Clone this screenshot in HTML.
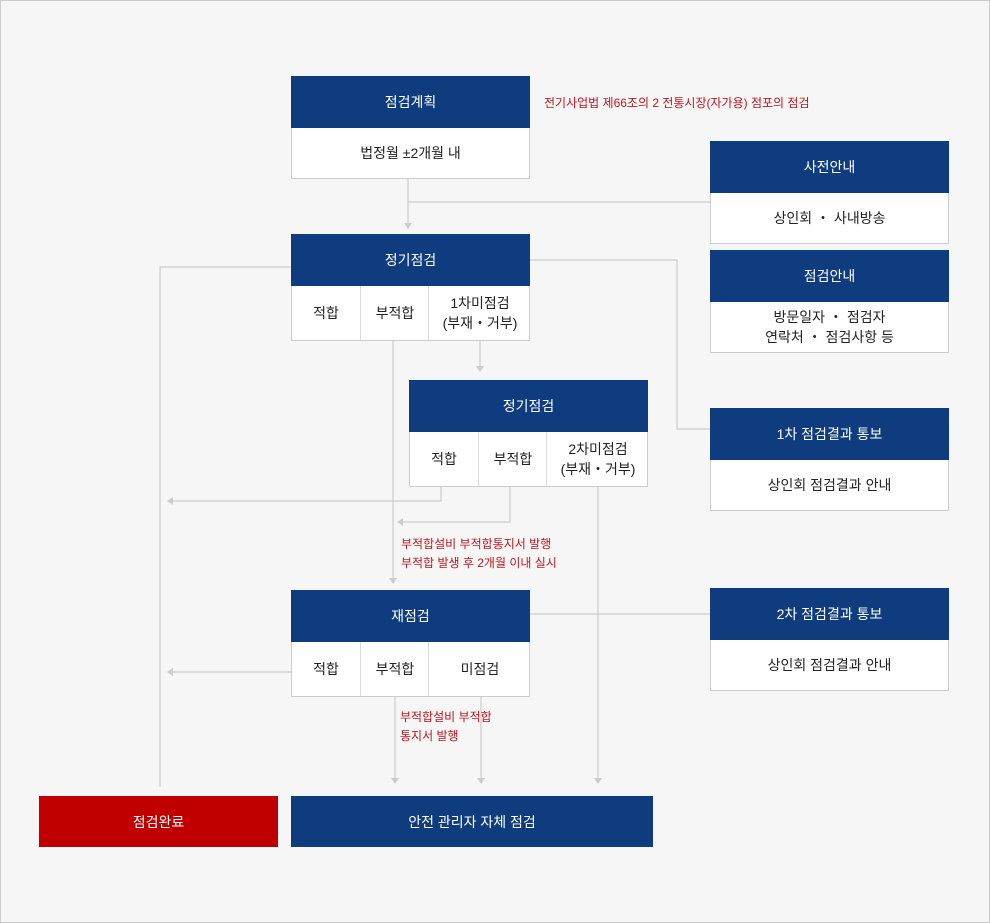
<!DOCTYPE html>
<html><head><meta charset="utf-8"><style>
body{margin:0;width:990px;height:923px;overflow:hidden;font-family:"Liberation Sans","Noto Sans CJK KR",sans-serif}
#page{position:absolute;left:0;top:0;width:990px;height:923px;background:#f6f6f6}
#frame{position:absolute;left:0;top:0;width:990px;height:923px;box-sizing:border-box;border:1px solid #ccc}
.hd{position:absolute;background:#0f3c7e;color:#fff;font-size:14px;display:flex;align-items:center;justify-content:center}
.bd{position:absolute;background:#fff;border:1px solid #ccc;border-top:none;box-sizing:border-box;font-size:14px;color:#222;display:flex;align-items:center;justify-content:center;text-align:center;line-height:20px}
.cell{position:absolute;top:0;bottom:0;display:flex;align-items:center;justify-content:center;text-align:center;border-left:1px solid #ddd;line-height:20px}
.red{position:absolute;color:#c0161e;font-size:12px;line-height:19px}
svg{position:absolute;left:0;top:0}
</style></head><body>
<div id="page">
<div id="frame"></div>
<svg width="990" height="923">
<g stroke="#cccccc" stroke-width="1.2" fill="none">
<path d="M408 179V224M408 202H710"/>
<path d="M291 267H160V787"/>
<path d="M530 260H677V429H710"/>
<path d="M393 341V579"/>
<path d="M480 341V368"/>
<path d="M441 487V501H172"/>
<path d="M510 487V522H403"/>
<path d="M598 487V778"/>
<path d="M530 614H710"/>
<path d="M291 672H172"/>
<path d="M395 697V778M481 697V778"/>
</g>
<g fill="#cccccc">
<path d="M404 223H412L408 229Z"/>
<path d="M476 366H484L480 372Z"/>
<path d="M389 578H397L393 584Z"/>
<path d="M391 778H399L395 784Z"/>
<path d="M477 778H485L481 784Z"/>
<path d="M594 778H602L598 784Z"/>
<path d="M167 501L173 497V505Z"/>
<path d="M397 522L403 518V526Z"/>
<path d="M167 672L173 668V676Z"/>
</g>
</svg>

<div class="hd" style="left:291px;top:76px;width:239px;height:52px">점검계획</div>
<div class="bd" style="left:291px;top:128px;width:239px;height:51px">법정월 ±2개월 내</div>
<div class="red" style="left:544px;top:94px">전기사업법 제66조의 2 전통시장(자가용) 점포의 점검</div>

<div class="hd" style="left:710px;top:141px;width:239px;height:52px">사전안내</div>
<div class="bd" style="left:710px;top:193px;width:239px;height:51px">상인회 ・ 사내방송</div>
<div class="hd" style="left:710px;top:250px;width:239px;height:52px">점검안내</div>
<div class="bd" style="left:710px;top:302px;width:239px;height:51px">방문일자 ・ 점검자<br>연락처 ・ 점검사항 등</div>

<div class="hd" style="left:291px;top:234px;width:239px;height:52px">정기점검</div>
<div class="bd" style="left:291px;top:286px;width:239px;height:55px">
<div class="cell" style="left:0;width:68px;border-left:none">적합</div>
<div class="cell" style="left:68px;width:68px">부적합</div>
<div class="cell" style="left:136px;width:102px">1차미점검<br>(부재・거부)</div></div>

<div class="hd" style="left:409px;top:380px;width:239px;height:52px">정기점검</div>
<div class="bd" style="left:409px;top:432px;width:239px;height:55px">
<div class="cell" style="left:0;width:68px;border-left:none">적합</div>
<div class="cell" style="left:68px;width:68px">부적합</div>
<div class="cell" style="left:136px;width:102px">2차미점검<br>(부재・거부)</div></div>

<div class="hd" style="left:710px;top:408px;width:239px;height:52px">1차 점검결과 통보</div>
<div class="bd" style="left:710px;top:460px;width:239px;height:51px">상인회 점검결과 안내</div>

<div class="red" style="left:401px;top:535px">부적합설비 부적합통지서 발행<br>부적합 발생 후 2개월 이내 실시</div>

<div class="hd" style="left:291px;top:590px;width:239px;height:52px">재점검</div>
<div class="bd" style="left:291px;top:642px;width:239px;height:55px">
<div class="cell" style="left:0;width:68px;border-left:none">적합</div>
<div class="cell" style="left:68px;width:68px">부적합</div>
<div class="cell" style="left:136px;width:102px">미점검</div></div>

<div class="hd" style="left:710px;top:588px;width:239px;height:52px">2차 점검결과 통보</div>
<div class="bd" style="left:710px;top:640px;width:239px;height:51px">상인회 점검결과 안내</div>

<div class="red" style="left:400px;top:708px">부적합설비 부적합<br>통지서 발행</div>

<div class="hd" style="left:39px;top:796px;width:239px;height:51px;background:#c00000">점검완료</div>
<div class="hd" style="left:291px;top:796px;width:362px;height:51px">안전 관리자 자체 점검</div>
</div>
</body></html>
